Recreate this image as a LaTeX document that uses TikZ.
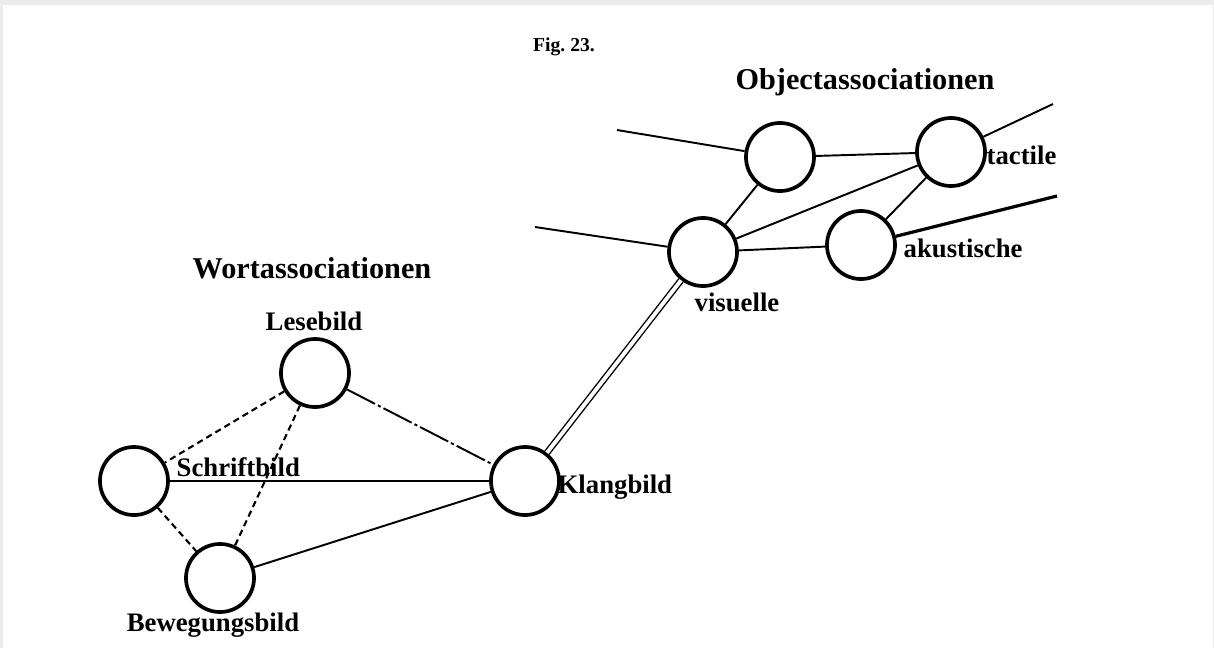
\documentclass[tikz,border=0pt]{standalone}
\usepackage{fontspec}
\setmainfont{Liberation Serif}
\usepackage{tikz}
\usepackage{xcolor}

\begin{document}
\begin{tikzpicture}[
            x=0.01cm, y=-0.01cm,
            knot/.style={circle, draw, line width=1.05pt, minimum size=0.68cm, inner sep=0pt},
            lbl/.style={inner sep=0pt, font=\bfseries\fontsize{7.6}{9}\selectfont},
            head/.style={inner sep=0pt, font=\bfseries\fontsize{8.6}{10}\selectfont},
            link/.style={line width=0.55pt},
            dashlink/.style={line width=0.6pt, dash pattern=on 1.8pt off 1.2pt},
            twin/.style={double, line width=0.4pt, double distance=1.1pt}
        ]
            % Page background with the grey scan border
            \useasboundingbox (0,0) rectangle (1214,648);
            \fill[gray!15] (0,0) rectangle (1214,648);
            \fill[white] (3,5) rectangle (1213,648);

            % Headings
            \node[inner sep=0pt, font=\bfseries\fontsize{5.6}{7}\selectfont] (fig) at (564,47) {Fig.\ 23.};
            \node[head] (objhead) at (865,82) {Objectassociationen};
            \node[head] (worthead) at (312,268) {Wortassociationen};

            % Word images
            \node[knot] (lese) at (315,373) {};
            \node[knot] (schrift) at (134,481) {};
            \node[knot] (beweg) at (220,578) {};
            \node[knot] (klang) at (525,481) {};

            % Object images
            \node[knot] (objtop) at (780,157) {};
            \node[knot] (visuell) at (703,252) {};
            \node[knot] (akust) at (861,245) {};
            \node[knot] (tactil) at (951,152) {};

            % Labels
            \node[lbl] (leselbl) at (314,321) {Lesebild};
            \node[lbl, anchor=west] (schriftlbl) at (176,467) {Schriftbild};
            \node[lbl] (beweglbl) at (213,625) {Bewegungsbild};
            \node[lbl, anchor=west] (klanglbl) at (557,487) {Klangbild};
            \node[lbl] (visuelllbl) at (737,302) {visuelle};
            \node[lbl, anchor=west] (akustlbl) at (903,248) {akustische};
            \node[lbl, anchor=west] (tactillbl) at (986,155) {tactile};

            % Free ends of the outgoing lines
            \coordinate (inobj) at (617,130);
            \coordinate (invis) at (535,227);
            \coordinate (outtac) at (1053,104);
            \coordinate (outaku) at (1057,196);

            % Word associations
            \draw[dashlink] (lese) -- (schrift);
            \draw[dashlink] (lese) -- (beweg);
            \draw[dashlink] (schrift) -- (beweg);
            \draw[link, dash pattern=on 9pt off 0.9pt on 0.9pt off 0.9pt] (lese) -- (klang);
            \draw[link] (schrift) -- (klang);
            \draw[link] (beweg) -- (klang);

            % Word to object
            \draw[twin] (klang) -- (visuell);

            % Object associations
            \draw[link] (objtop) -- (tactil);
            \draw[link] (objtop) -- (visuell);
            \draw[link] (visuell) -- (tactil);
            \draw[link] (visuell) -- (akust);
            \draw[link] (akust) -- (tactil);
            \draw[link] (inobj) -- (objtop);
            \draw[link] (invis) -- (visuell);
            \draw[link] (tactil) -- (outtac);
            \draw[line width=0.9pt] (akust) -- (outaku);

        \end{tikzpicture}
\end{document}
